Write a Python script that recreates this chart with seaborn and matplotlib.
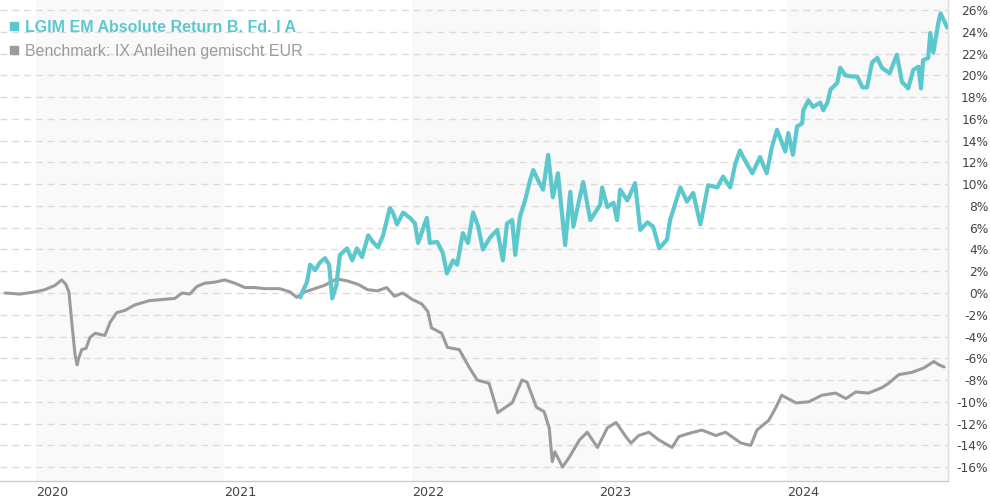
import matplotlib
matplotlib.use("Agg")
import matplotlib.pyplot as plt
from matplotlib.lines import Line2D
import pandas as pd
import seaborn as sns

# ---------------- data ----------------
fund_name = "LGIM EM Absolute Return B. Fd. I A"
bench_name = "Benchmark: IX Anleihen gemischt EUR"

bench_dates = [
    "2019-11-02", "2019-12-01", "2019-12-30", "2020-01-18", "2020-02-07", "2020-02-20",
    "2020-02-28", "2020-03-05", "2020-03-11", "2020-03-17", "2020-03-21", "2020-03-24",
    "2020-03-30", "2020-04-07", "2020-04-15", "2020-04-25", "2020-05-04", "2020-05-14",
    "2020-05-24", "2020-06-06", "2020-06-22", "2020-07-11", "2020-07-25", "2020-08-09",
    "2020-09-02", "2020-09-27", "2020-10-11", "2020-10-26", "2020-11-09", "2020-11-24",
    "2020-12-14", "2021-01-02", "2021-01-22", "2021-02-10", "2021-03-01", "2021-03-21",
    "2021-04-19", "2021-05-09", "2021-05-22", "2021-06-07", "2021-06-26", "2021-07-15",
    "2021-08-08", "2021-08-29", "2021-09-18", "2021-10-07", "2021-10-26", "2021-11-13",
    "2021-11-28", "2021-12-14", "2022-01-02", "2022-01-20", "2022-02-01", "2022-02-08",
    "2022-02-28", "2022-03-11", "2022-04-03", "2022-04-22", "2022-05-08", "2022-05-31",
    "2022-06-17", "2022-06-29", "2022-07-15", "2022-08-03", "2022-08-13", "2022-08-31",
    "2022-09-15", "2022-09-25", "2022-10-01", "2022-10-06", "2022-10-21", "2022-11-03",
    "2022-11-23", "2022-12-08", "2022-12-28", "2023-01-16", "2023-02-02", "2023-02-21",
    "2023-03-03", "2023-03-18", "2023-04-07", "2023-04-26", "2023-05-22", "2023-06-04",
    "2023-06-24", "2023-07-19", "2023-08-15", "2023-09-03", "2023-10-03", "2023-10-22",
    "2023-11-03", "2023-11-26", "2023-12-10", "2023-12-21", "2024-01-18", "2024-02-12",
    "2024-03-08", "2024-04-04", "2024-04-24", "2024-05-13", "2024-06-07", "2024-07-03",
    "2024-07-16", "2024-08-05", "2024-08-30", "2024-09-22", "2024-10-12", "2024-10-22",
    "2024-11-01",
]
bench_values = [
    0.0, -0.1, 0.1, 0.3, 0.7, 1.2,
    0.8, 0.1, -2.9, -5.7, -6.6, -6.0,
    -5.2, -5.1, -4.1, -3.7, -3.8, -3.9,
    -2.7, -1.8, -1.6, -1.1, -0.9, -0.7,
    -0.6, -0.5, 0.0, -0.1, 0.6, 0.9,
    1.0, 1.2, 0.9, 0.5, 0.5, 0.4,
    0.4, 0.1, -0.4, 0.1, 0.4, 0.7,
    1.3, 1.1, 0.8, 0.3, 0.2, 0.5,
    -0.3, 0.0, -0.6, -1.0, -1.7, -3.2,
    -3.7, -5.0, -5.2, -6.8, -8.0, -8.3,
    -11.0, -10.6, -10.1, -8.0, -8.2, -10.5,
    -10.9, -12.4, -15.5, -14.6, -16.0, -15.1,
    -13.5, -12.8, -14.2, -12.4, -11.9, -13.2,
    -13.8, -13.1, -12.8, -13.5, -14.2, -13.2,
    -12.9, -12.6, -13.1, -12.8, -13.8, -14.0,
    -12.6, -11.7, -10.5, -9.4, -10.1, -10.0,
    -9.4, -9.2, -9.7, -9.1, -9.2, -8.7,
    -8.3, -7.5, -7.3, -6.9, -6.3, -6.6,
    -6.8,
]

fund_dates = [
    "2021-05-29", "2021-06-03", "2021-06-11", "2021-06-17", "2021-06-27", "2021-07-06",
    "2021-07-16", "2021-07-24", "2021-07-30", "2021-08-07", "2021-08-14", "2021-08-28",
    "2021-09-07", "2021-09-16", "2021-09-26", "2021-10-08", "2021-10-17", "2021-10-27",
    "2021-11-06", "2021-11-19", "2021-11-25", "2021-12-03", "2021-12-15", "2021-12-28",
    "2022-01-07", "2022-01-13", "2022-01-30", "2022-02-05", "2022-02-19", "2022-03-02",
    "2022-03-10", "2022-03-22", "2022-03-30", "2022-04-10", "2022-04-20", "2022-04-30",
    "2022-05-10", "2022-05-19", "2022-06-02", "2022-06-16", "2022-06-27", "2022-07-05",
    "2022-07-15", "2022-07-21", "2022-07-30", "2022-08-09", "2022-08-19", "2022-08-25",
    "2022-09-03", "2022-09-13", "2022-09-23", "2022-10-02", "2022-10-12", "2022-10-26",
    "2022-11-05", "2022-11-11", "2022-11-30", "2022-12-14", "2023-01-02", "2023-01-06",
    "2023-01-16", "2023-01-28", "2023-02-04", "2023-02-10", "2023-02-24", "2023-03-11",
    "2023-03-21", "2023-04-04", "2023-04-15", "2023-04-27", "2023-05-12", "2023-05-18",
    "2023-06-07", "2023-06-20", "2023-07-02", "2023-07-16", "2023-07-31", "2023-08-18",
    "2023-08-29", "2023-09-12", "2023-09-22", "2023-10-01", "2023-10-07", "2023-10-25",
    "2023-11-09", "2023-11-22", "2023-12-02", "2023-12-12", "2023-12-28", "2024-01-03",
    "2024-01-12", "2024-01-20", "2024-01-30", "2024-02-01", "2024-02-11", "2024-02-20",
    "2024-03-05", "2024-03-11", "2024-03-19", "2024-03-25", "2024-04-07", "2024-04-13",
    "2024-04-23", "2024-05-06", "2024-05-16", "2024-05-26", "2024-06-04", "2024-06-14",
    "2024-06-24", "2024-07-03", "2024-07-18", "2024-08-01", "2024-08-11", "2024-08-23",
    "2024-09-02", "2024-09-12", "2024-09-17", "2024-09-21", "2024-10-01", "2024-10-05",
    "2024-10-11", "2024-10-21", "2024-10-25", "2024-10-31", "2024-11-07",
]
fund_values = [
    -0.4, 0.2, 1.0, 2.6, 2.1, 2.8,
    3.2, 2.6, -0.5, 0.7, 3.5, 4.1,
    3.0, 4.1, 3.3, 5.3, 4.7, 4.2,
    5.3, 7.8, 7.4, 6.3, 7.4, 6.9,
    6.4, 4.6, 6.9, 4.6, 4.7, 3.7,
    1.8, 3.0, 2.6, 5.5, 4.6, 7.4,
    6.1, 4.0, 5.1, 5.8, 3.0, 6.4,
    6.7, 3.5, 7.0, 8.5, 10.4, 11.3,
    10.4, 9.5, 12.7, 8.8, 11.0, 4.4,
    9.3, 6.1, 10.2, 6.7, 8.1, 9.7,
    7.9, 8.3, 6.7, 9.5, 8.5, 10.1,
    5.8, 6.5, 6.1, 4.1, 4.9, 6.7,
    9.7, 8.4, 9.2, 6.3, 9.9, 9.7,
    10.7, 9.7, 11.9, 13.1, 12.5, 11.0,
    12.5, 11.0, 13.4, 15.0, 13.0, 14.7,
    12.7, 15.3, 15.6, 16.8, 17.7, 17.1,
    17.5, 16.8, 17.5, 18.7, 19.3, 20.7,
    20.0, 19.9, 19.9, 18.9, 18.9, 21.2,
    21.6, 20.7, 20.2, 21.9, 19.4, 18.8,
    20.5, 20.8, 18.8, 21.4, 21.6, 23.9,
    22.1, 24.9, 25.7, 25.1, 24.4,
]

year_labels = ["2020", "2021", "2022", "2023", "2024"]
y_ticks = list(range(-16, 27, 2))

# ---------------- style ----------------
TEAL = "#5cc8ce"
GREY = "#9b9b9b"
TXT = "#444444"

sns.set_style("white")
plt.rcParams["font.family"] = ["DejaVu Sans"]

fig = plt.figure(figsize=(9.9, 5.0), dpi=100)
ax = fig.add_axes([0.0, 1 - 481 / 500, 948 / 990, 481 / 500])

bench = pd.DataFrame({"date": pd.to_datetime(bench_dates), "value": bench_values})
fund = pd.DataFrame({"date": pd.to_datetime(fund_dates), "value": fund_values})

# alternating year shading
x_start = pd.Timestamp("2019-10-23")
x_end = pd.Timestamp("2024-11-08 12:00")
for i, y in enumerate(year_labels):
    if i % 2 == 0:
        a = pd.Timestamp(f"{y}-01-01")
        b = min(pd.Timestamp(f"{int(y) + 1}-01-01"), x_end)
        ax.axvspan(a, b, color="#f9f9f9", zorder=0, lw=0)

sns.lineplot(data=bench, x="date", y="value", ax=ax, color=GREY, linewidth=2.2, zorder=3)
sns.lineplot(data=fund, x="date", y="value", ax=ax, color=TEAL, linewidth=3.0, zorder=4)

ax.set_xlim(x_start, x_end)
ax.set_ylim(-17.28, 26.93)

# grid
ax.set_yticks(y_ticks)
ax.yaxis.grid(True, color="#dcdcdc", linestyle=(0, (5, 3.5)), linewidth=1.0, zorder=1)
ax.xaxis.grid(False)
ax.set_axisbelow(True)

ax.yaxis.tick_right()
ax.set_yticklabels([f"{v}%" for v in y_ticks])
ax.tick_params(axis="y", length=0, pad=29, labelsize=8.8, labelcolor=TXT)
for lab in ax.get_yticklabels():
    lab.set_horizontalalignment("right")

ax.set_xticks([pd.Timestamp(f"{y}-01-01") for y in year_labels])
ax.set_xticklabels(year_labels)
ax.tick_params(axis="x", length=0, pad=3.5, labelsize=9.2, labelcolor=TXT)
for lab in ax.get_xticklabels():
    lab.set_horizontalalignment("left")

ax.set_xlabel("")
ax.set_ylabel("")

for s in ["left", "top"]:
    ax.spines[s].set_visible(False)
ax.spines["bottom"].set_color("#cccccc")
ax.spines["right"].set_color("#dddddd")
ax.spines["bottom"].set_linewidth(1.0)
ax.spines["right"].set_linewidth(1.0)

# legend
handles = [
    Line2D([], [], marker="s", linestyle="", color=TEAL, markersize=6.3),
    Line2D([], [], marker="s", linestyle="", color=GREY, markersize=6.3),
]
leg = ax.legend(handles, [fund_name, bench_name], loc="upper left",
                bbox_to_anchor=(9 / 948, 1 - 20 / 481), frameon=False,
                handlelength=0.6, handletextpad=0.4, labelspacing=0.55,
                borderpad=0, borderaxespad=0,
                prop={"family": "Liberation Sans", "size": 11.5})
texts = leg.get_texts()
texts[0].set_color(TEAL)
texts[0].set_fontweight("bold")
texts[1].set_color(GREY)

fig.savefig("out.png", dpi=100)
